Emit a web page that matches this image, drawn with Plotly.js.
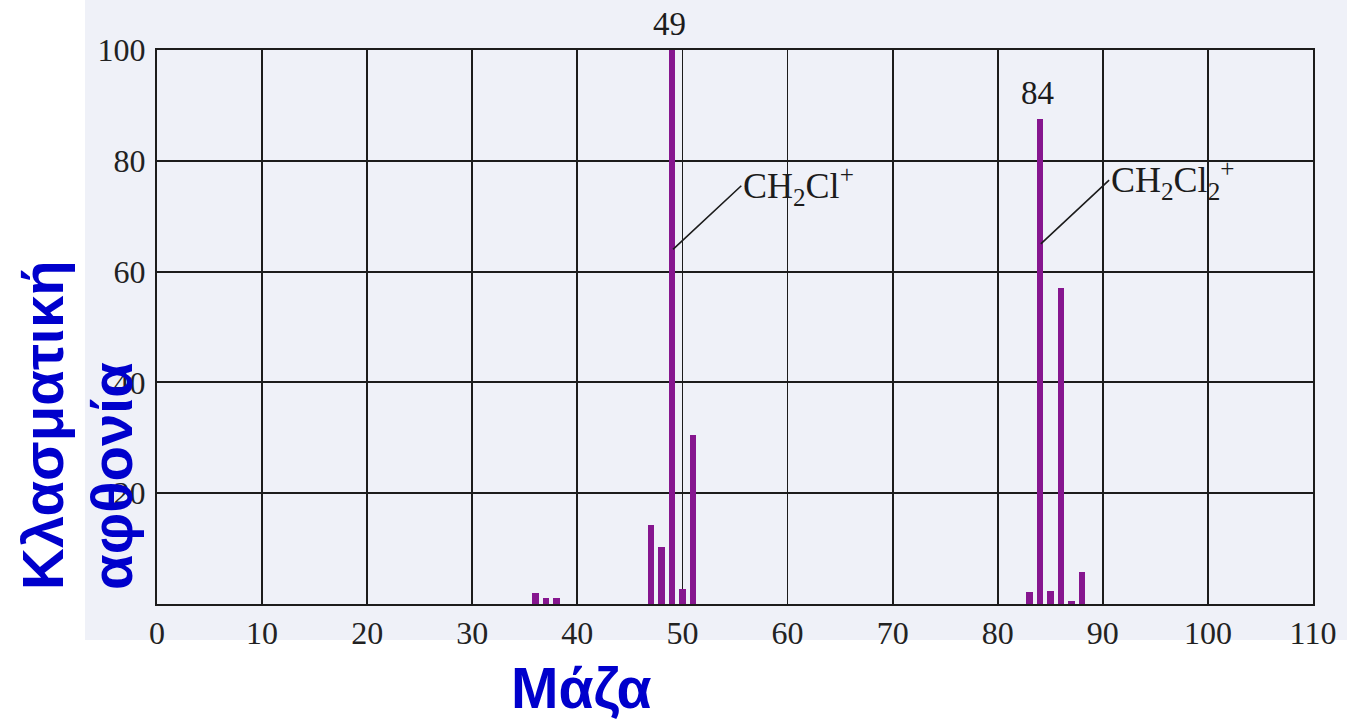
<!DOCTYPE html>
<html>
<head>
<meta charset="utf-8">
<script src="https://cdn.plot.ly/plotly-3.0.1.min.js"></script>
<style>html,body{margin:0;padding:0;background:#fff;}#chart{width:1347px;height:719px;}</style>
</head>
<body>
<div id="chart"></div>
<script>
// Data
const mass = [36, 37, 38, 47, 48, 49, 50, 51, 83, 84, 85, 86, 87, 88];
const abundance = [1.9, 1.1, 1.0, 14.3, 10.2, 100, 2.7, 30.5, 2.1, 87.5, 2.3, 57, 0.6, 5.8];
const xTickVals = [0, 10, 20, 30, 40, 50, 60, 70, 80, 90, 100, 110];
const yTickVals = [20, 40, 60, 80, 100];
const xTitle = "Μάζα";
const yTitleLines = ["Κλασματική", "αφθονία"];
const peakLabels = [{m: 49, text: "49"}, {m: 84, text: "84"}];
const ionLabels = [
  {text: "CH<sub>2</sub>Cl<sup>+</sup>", x: 49.1, y: 64, tx: 55.6, ty: 75.5},
  {text: "CH<sub>2</sub>Cl<sub>2</sub><sup>+</sup>", x: 84.1, y: 65, tx: 90.6, ty: 76.5}
];

const W = 1347, H = 719;
const M = {l: 157, r: 34, t: 50, b: 115};
const pw = W - M.l - M.r, ph = H - M.t - M.b;
const px = v => (v - M.l) / pw;
const py = v => (H - M.b - v) / ph;

const blue = '#0000cc';
const ink = '#1c1c1c';
const serif = 'Liberation Serif, Times New Roman, serif';
const sans = 'Liberation Sans, Arial, sans-serif';

const annotations = [];
peakLabels.forEach(p => {
  const idx = mass.indexOf(p.m);
  annotations.push({
    x: p.m, y: abundance[idx], xref: 'x', yref: 'y', text: p.text, showarrow: false,
    yanchor: 'bottom', yshift: 6, xshift: -2, font: {family: serif, size: 33, color: ink}
  });
});
ionLabels.forEach(l => {
  annotations.push({
    x: l.x, y: l.y, xref: 'x', yref: 'y', ax: l.tx, ay: l.ty, axref: 'x', ayref: 'y',
    text: l.text, showarrow: true, arrowhead: 0, arrowwidth: 1.6, arrowcolor: ink,
    xanchor: 'left', yanchor: 'middle', standoff: 0,
    font: {family: serif, size: 36, color: ink}
  });
});
annotations.push({
  x: px(581), y: py(688), xref: 'paper', yref: 'paper', text: '<b>' + xTitle + '</b>',
  showarrow: false, xanchor: 'center', yanchor: 'middle',
  font: {family: sans, size: 57, color: blue}
});
[42, 111].forEach((cx, i) => {
  annotations.push({
    x: px(cx), y: py(592), xref: 'paper', yref: 'paper', text: '<b>' + yTitleLines[i] + '</b>',
    showarrow: false, textangle: -90, xanchor: 'center', yanchor: 'bottom',
    font: {family: sans, size: 58, color: blue}
  });
});

const axisCommon = {
  showgrid: true, gridcolor: ink, gridwidth: 1.9,
  showline: true, mirror: true, linecolor: ink, linewidth: 2,
  ticks: '', zeroline: false, fixedrange: true,
  tickfont: {family: serif, size: 32, color: '#222'}
};

const layout = {
  width: W, height: H, margin: M,
  paper_bgcolor: '#ffffff', plot_bgcolor: '#f2f4f9',
  showlegend: false, bargap: 0,
  xaxis: Object.assign({}, axisCommon, {range: [0, 110], tickvals: xTickVals, ticklabelstandoff: 0}),
  yaxis: Object.assign({}, axisCommon, {range: [0, 100], tickvals: yTickVals, ticklabelstandoff: 3}),
  shapes: [{
    type: 'rect', xref: 'paper', yref: 'paper', layer: 'below',
    x0: px(85), x1: px(1347), y0: py(640), y1: py(0),
    fillcolor: '#eff1f8', line: {width: 0}
  }],
  annotations: annotations
};

const trace = {
  type: 'bar', x: mass, y: abundance, width: 0.62,
  marker: {color: '#86168f', line: {width: 0}}, hoverinfo: 'x+y'
};

Plotly.newPlot('chart', [trace], layout, {displayModeBar: false, staticPlot: true});
</script>
</body>
</html>
